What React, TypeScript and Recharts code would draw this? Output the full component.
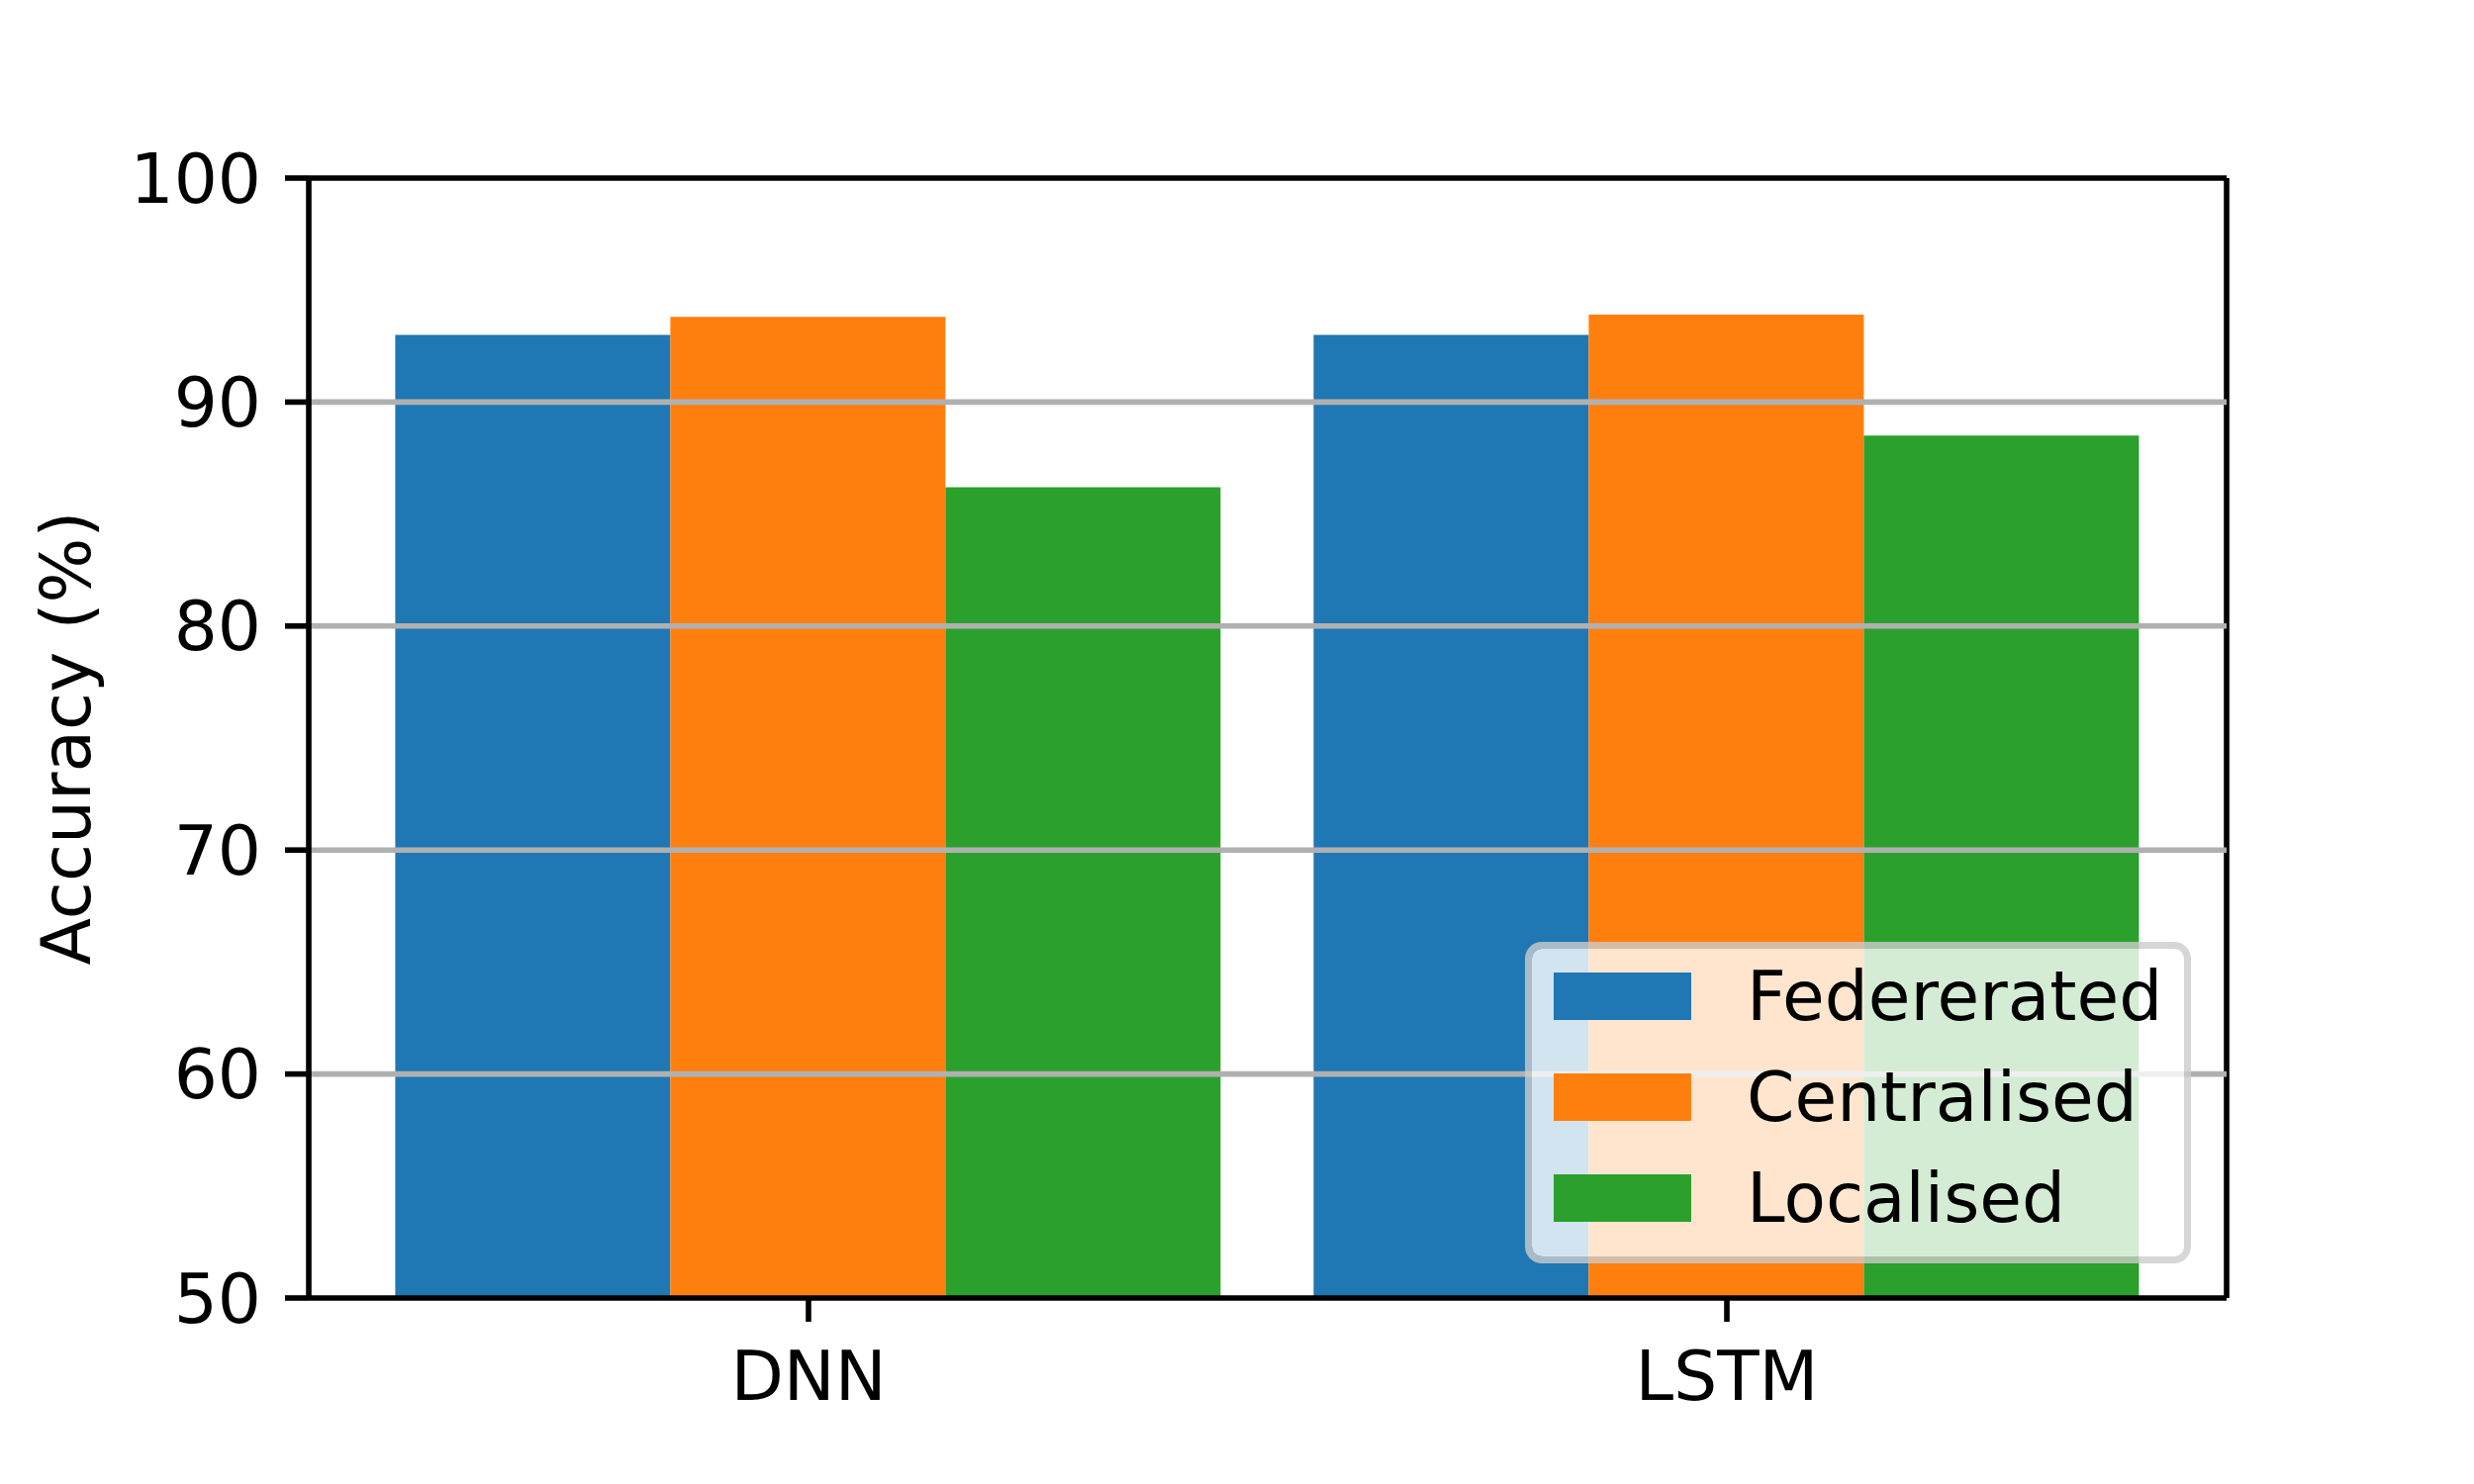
import React from "react";
import {
  Bar,
  BarChart,
  CartesianGrid,
  Legend,
  ReferenceLine,
  XAxis,
  YAxis,
} from "recharts";

// values
const categories = ["DNN", "LSTM"];
const federated = [93.0, 93.0];
const centralised = [93.8, 93.9];
const localised = [86.2, 88.5];

const seriesNames = ["Federerated", "Centralised", "Localised"];
const seriesKeys = ["federated", "centralised", "localised"];
const seriesColors = ["#1f77b4", "#ff7f0e", "#2ca02c"];

const yTicks = [50, 60, 70, 80, 90, 100];
const gridTicks = [60, 70, 80, 90];

const chartData = categories.map((name, i) => ({
  name,
  federated: federated[i],
  centralised: centralised[i],
  localised: localised[i],
}));

const FONT = "'DejaVu Sans', sans-serif";
const FS = 69.4;
const LW = 5.6;

function YLabel({ viewBox }: any) {
  const cx = viewBox.x + 67;
  const cy = viewBox.y + viewBox.height / 2;
  return (
    <text
      x={cx}
      y={cy}
      transform={`rotate(-90 ${cx} ${cy})`}
      textAnchor="middle"
      dominantBaseline="central"
      fill="#000"
      fontSize={FS}
      fontFamily={FONT}
    >
      Accuracy (%)
    </text>
  );
}

function LegendBox({ payload }: any) {
  // keep the series order rather than the alphabetical one
  const items = [...(payload || [])].sort(
    (a: any, b: any) => seriesNames.indexOf(a.value) - seriesNames.indexOf(b.value)
  );
  return (
    <div
      style={{
        position: "relative",
        width: 673,
        height: 325,
        boxSizing: "border-box",
        background: "rgba(255,255,255,0.8)",
        backgroundClip: "padding-box",
        border: "7px solid rgba(204,204,204,0.8)",
        borderRadius: 17,
        fontFamily: FONT,
        fontSize: FS,
        color: "#000",
      }}
    >
      {items.map((entry: any, i: number) => (
        <div
          key={entry.value}
          style={{
            position: "absolute",
            left: 22,
            top: -3 + i * 102,
            height: 102,
            display: "flex",
            alignItems: "center",
            whiteSpace: "nowrap",
          }}
        >
          <span
            style={{
              display: "inline-block",
              width: 139,
              height: 48,
              background: entry.color,
              marginRight: 56,
            }}
          />
          <span>{entry.value}</span>
        </div>
      ))}
    </div>
  );
}

// right spine of the axes box, taken from the chart offset
const rightEdge = ({ offset, width }: any) => [
  offset.width != null ? offset.left + offset.width : width - offset.right,
];

export default function App() {
  return (
    <div style={{ position: "fixed", left: 0, top: 0, background: "#fff" }}>
      <BarChart
        width={2500}
        height={1500}
        data={chartData}
        margin={{ top: 180, right: 250, bottom: 0, left: 0 }}
        barCategoryGap="5%"
        barGap={0}
      >
        <CartesianGrid
          horizontal={false}
          vertical
          verticalCoordinatesGenerator={rightEdge}
          stroke="#000"
          strokeWidth={LW}
          strokeOpacity={1}
        />
        <XAxis
          dataKey="name"
          height={188}
          padding={{ left: 41, right: 41 }}
          tickSize={24}
          tickMargin={30}
          tickLine={{ stroke: "#000", strokeWidth: LW }}
          axisLine={{ stroke: "#000", strokeWidth: LW }}
          tick={{ fill: "#000", fontSize: FS, fontFamily: FONT }}
        />
        <YAxis
          width={312}
          type="number"
          domain={[50, 100]}
          ticks={yTicks}
          interval={0}
          tickSize={24}
          tickMargin={24}
          tickLine={{ stroke: "#000", strokeWidth: LW }}
          axisLine={{ stroke: "#000", strokeWidth: LW }}
          tick={{ fill: "#000", fontSize: FS, fontFamily: FONT }}
          label={{ content: YLabel }}
        />
        {seriesKeys.map((key, i) => (
          <Bar
            key={key}
            dataKey={key}
            name={seriesNames[i]}
            fill={seriesColors[i]}
            isAnimationActive={false}
          />
        ))}
        {gridTicks.map((v) => (
          <ReferenceLine
            key={v}
            y={v}
            stroke="#b0b0b0"
            strokeWidth={LW}
            zIndex={350}
          />
        ))}
        <ReferenceLine y={100} stroke="#000" strokeWidth={LW} zIndex={550} />
        <Legend
          layout="vertical"
          align="center"
          verticalAlign="middle"
          itemSorter={null as any}
          wrapperStyle={{ left: 1541, top: 952, width: 673, height: 325 }}
          content={<LegendBox />}
        />
      </BarChart>
    </div>
  );
}
